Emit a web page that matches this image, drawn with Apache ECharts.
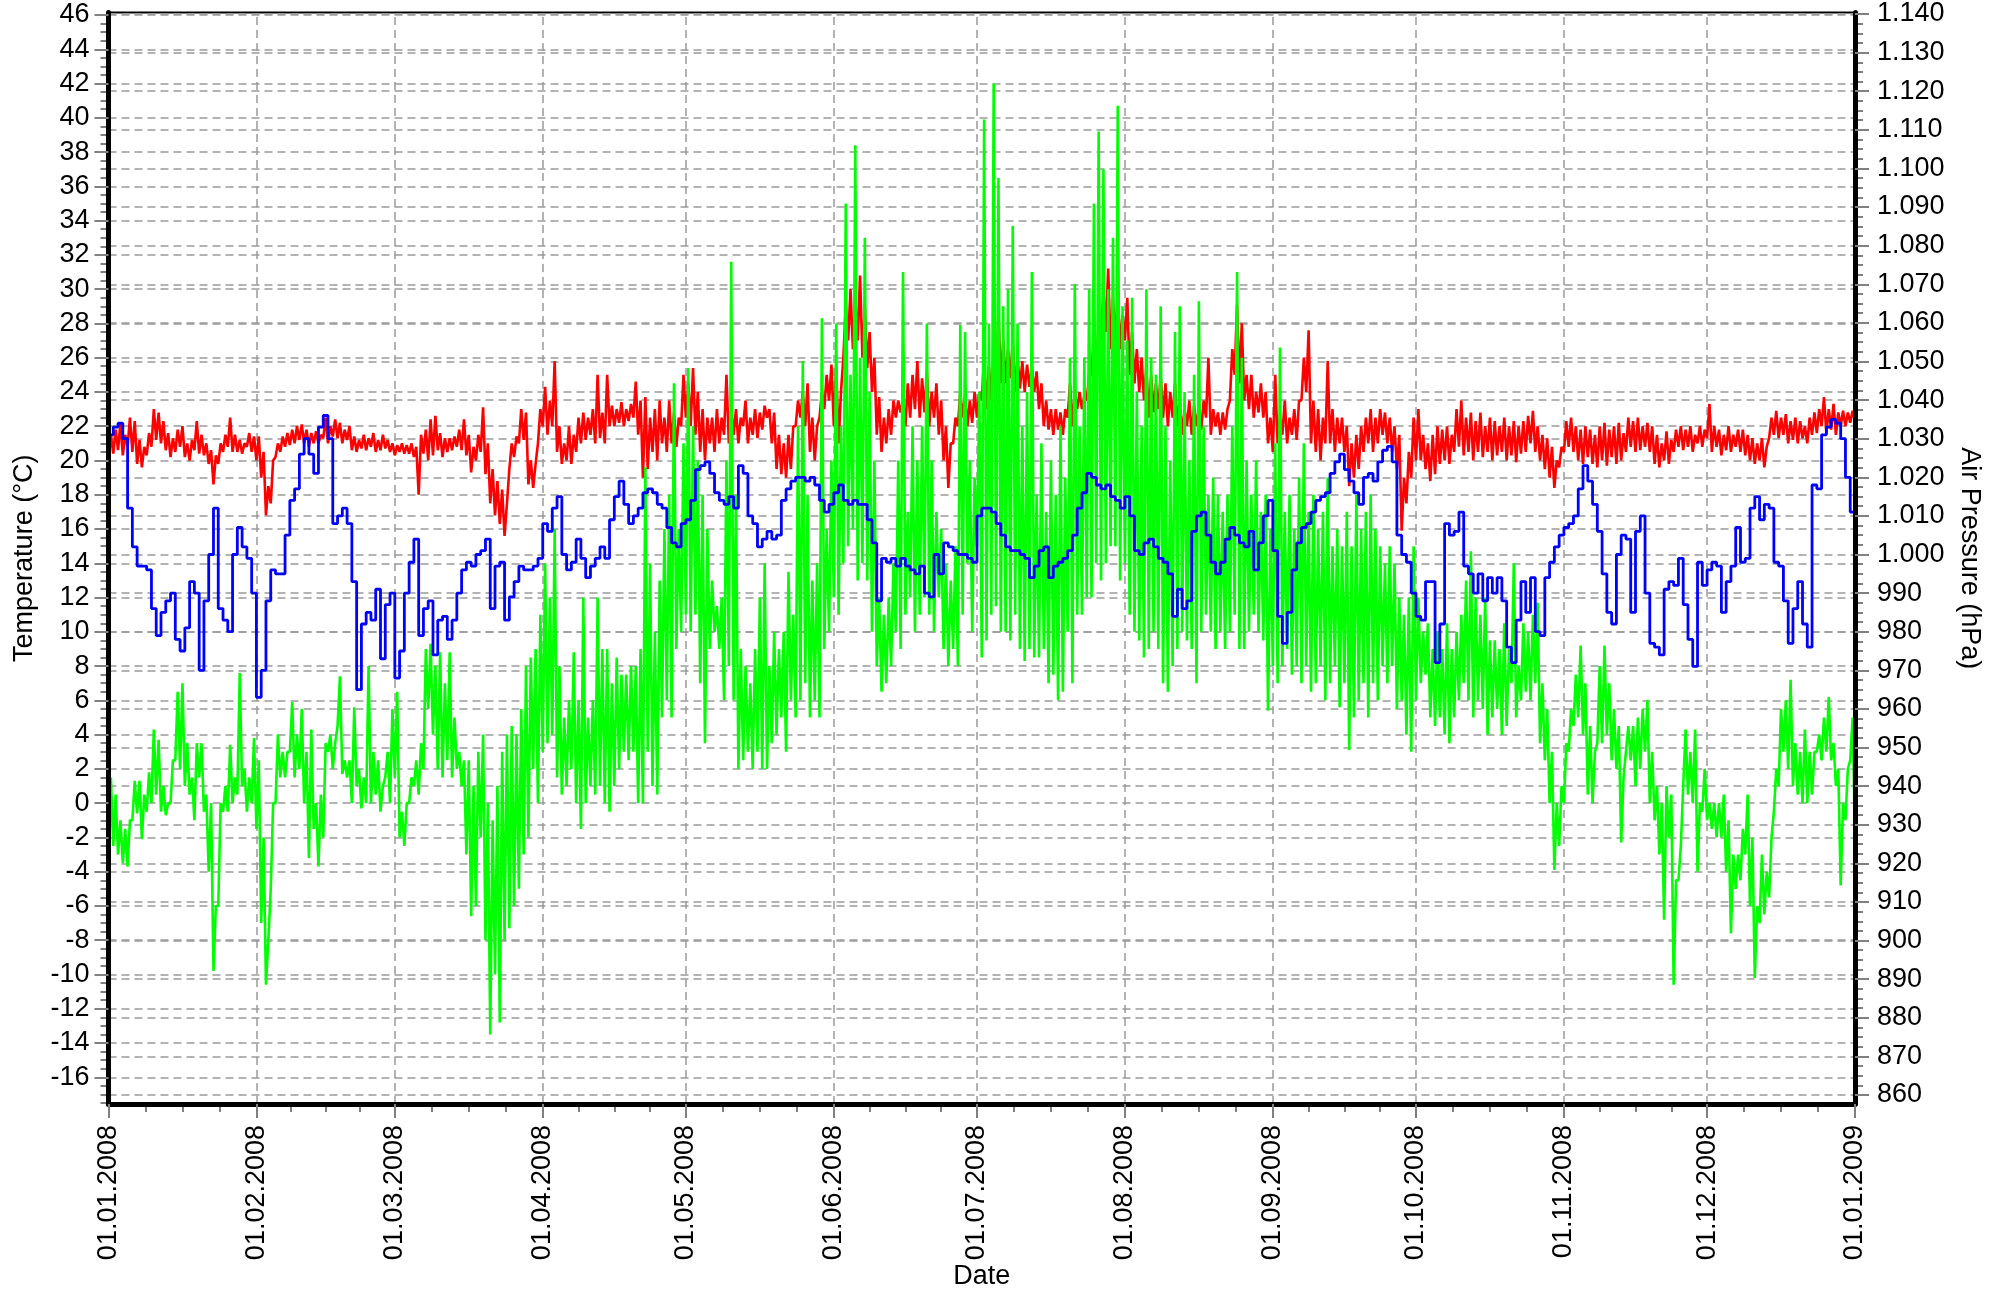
<!DOCTYPE html>
<html>
<head>
<meta charset="utf-8">
<script src="https://cdn.jsdelivr.net/npm/echarts@6/dist/echarts.min.js"></script>
<style>html,body{margin:0;padding:0;background:#fff}#chart{width:2007px;height:1290px}</style>
</head>
<body>
<div id="chart"></div>
<script>
// ---------- axis labels / ticks ----------
const monthLabels = ['01.01.2008','01.02.2008','01.03.2008','01.04.2008','01.05.2008','01.06.2008',
  '01.07.2008','01.08.2008','01.09.2008','01.10.2008','01.11.2008','01.12.2008','01.01.2009'];
const monthStartDays = [0,31,60,91,121,152,182,213,244,274,305,335,366];
const tempTicks = [-16,-14,-12,-10,-8,-6,-4,-2,0,2,4,6,8,10,12,14,16,18,20,22,24,26,28,30,32,34,36,38,40,42,44,46];
const pressureTicks = [860,870,880,890,900,910,920,930,940,950,960,970,980,990,1000,1010,1020,1030,1040,
  1050,1060,1070,1080,1090,1100,1110,1120,1130,1140];

// ---------- data: one value per day (day 0 = 01.01.2008) ----------
// Air pressure (hPa), blue
const pressure = [
1031,1033,1034,1030,1012,1002,997,997,996,986,
979,985,988,990,978,975,981,993,990,970,
988,1000,1012,986,983,980,1000,1007,1002,999,
990,963,970,988,996,995,995,1005,1014,1017,
1026,1030,1026,1021,1033,1036,1030,1008,1010,1012,
1008,993,965,982,985,983,991,973,987,990,
968,975,990,998,1004,979,986,988,974,983,
984,978,983,990,996,998,997,1000,1001,1004,
986,997,998,983,989,993,997,996,996,997,
999,1008,1006,1012,1015,1000,996,998,1004,999,
994,997,999,1002,999,1009,1015,1019,1013,1008,
1010,1012,1016,1017,1016,1013,1012,1007,1003,1002,
1008,1009,1014,1022,1023,1024,1021,1016,1014,1013,
1015,1012,1023,1021,1010,1008,1002,1004,1006,1004,
1005,1014,1017,1019,1020,1020,1019,1020,1018,1014,
1011,1013,1016,1018,1014,1013,1014,1013,1013,1009,
1003,988,999,998,999,997,999,997,996,995,
997,990,989,1000,995,1003,1002,1001,1000,1000,
999,998,1010,1012,1012,1011,1008,1005,1002,1001,
1001,1000,999,994,997,1001,1002,994,997,998,
999,1001,1005,1012,1016,1021,1020,1018,1017,1018,
1015,1014,1012,1015,1010,1001,1000,1003,1004,1002,
999,998,995,984,991,986,988,1006,1010,1011,
1005,998,995,998,1004,1007,1005,1003,1002,1006,
996,1003,1010,1014,1001,984,977,985,996,1003,
1007,1008,1011,1014,1015,1016,1021,1024,1026,1022,
1019,1016,1013,1020,1021,1019,1024,1027,1028,1024,
1005,1000,998,990,984,983,993,993,972,982,
1008,1005,1006,1011,997,995,990,995,988,994,
990,994,988,976,972,983,993,985,994,980,
979,994,998,1002,1005,1007,1008,1010,1017,1023,
1019,1013,1006,995,985,982,1000,1005,1004,985,
1006,1010,990,977,976,974,991,993,992,999,
987,978,971,998,992,996,998,997,985,993,
997,1007,998,999,1012,1015,1009,1013,1012,998,
997,988,977,986,993,982,976,1018,1017,1031,
1033,1035,1034,1030,1020,1011,1013
];

// Outdoor temperature (°C), green: daily low and daily high
const outdoorMin = [
-1,-2.5,-3,-3.5,-3.7,-1,-0.6,-2.1,-0.5,0,
0.5,-0.5,-0.7,0,2.5,2,1,0.5,-1,1.5,
-0.5,-4,-9.8,-6,-0.5,-0.5,0,0.5,1,-0.5,
0,-1.5,-7,-10.6,-5,0,1.5,1.5,3,1.5,
2,0,-3.2,-1.5,-3.7,-2,3,2,4.5,1.7,
1.5,0,1,-0.3,0,0,0.5,-0.5,1.5,0,
1.5,-2,-2.5,0,1,0.5,2,5.5,4,2,
1.5,2.5,1.5,2,1,-3,-6.6,-6,-2,-8,
-13.5,-10,-12.8,-8,-7.3,-6,-5,-3,-2,2,
0,3,
3.5,4,1.5,0.5,1,2,0,-1.5,0,1,
0.5,1,0,-0.5,1,2,3,2.5,3,0,
0,3,1,0.5,5,6,5,9,10,11,
10,11,7,3.5,9,10,9,6,8,6,
2,2.5,3,2,3,2,2,3.5,4,5,
3,6,5,6,7,5,6,5,9,10,
12,11,14,15,16,13,14,13,10,8,
6.5,7,8,10,9,11,12,10,11,12,
11,10,12,9,8,9,8,11,14,10,
15,
8.5,9.5,11,11.5,10,10,9.5,11,9,8.3,
9,8.5,8.5,9,7,7.5,6,6.5,10,7,
11,11,12,12,14,13,14,15,15,13,
14,11,10,9.5,8.5,9,10,9,7,6.5,
8,9,10,9.5,9,7,10,11,10,9,
10,9,10,11,9,9,10,11,10,9.5,
5.4,8,7,8,9,7.5,8,7,8,6.5,
7,8,6,7,8,5.6,7,3.1,5,6,
7,5,7,6,8,7,8,5.5,6,4,
3,6,
7,7.5,5,4.5,5,4,3.5,5,6,7,
6,5,6,5.5,4,5,5.5,4,4.5,7,
5,6,6.5,6,7,3.5,2.5,0,-3.9,-2.5,
0,3,4.5,5,4,0.5,0,3.5,3.5,4,
2.5,2,-2.3,3,2.5,1,2,3,0,-1,
-3,-6.8,-2,-10.6,-4.5,1,0.5,0,-4,-0.5,
-1,-1.5,-2,-2,-4,-7.6,-5,-4.5,-3,-6,
-10.2,-7,-6.5,-5.5,-0.5,1,3,2,1,0.5,
0,0,0.5,3,2.5,3,2.5,1,-4.8,-1,
2.5,-2
];
const outdoorMax = [
1.5,0.5,-1,-1.5,-1,1.3,1.3,0.5,1.8,4.3,
3.7,1,0,2.5,6.5,7,3.5,1.5,3.5,3.5,
0.5,0,-6,0,1,3.4,1.5,7.6,2,1.5,
3.8,2.5,-2,-8,0,4,3,3,5.9,4,
5.5,3,4.3,0,0.5,3.5,4,3.5,7.4,2.5,
2.5,5.6,2,1.5,8,3,2.5,1,3,5.5,
6.5,-0.5,0,1.5,2.5,3.5,9,9.3,8,8.8,
7,8.8,5,3,2.5,2.5,1,3,4,0,
-1,1,3,4,4.5,4,5.5,8,8.5,9,
11,14,
12,16,8,5,6,8.8,6,12,5,6,
12,9,9,7,8.5,7.5,7.5,8,8,9,
19.6,14,10,13,16,18,24.5,16,21,25.4,
22,20,18,16,13,11.5,12,20,31.6,18,
9,8,7,9,12,14,8,10,9,10,
13.5,11,22,25.8,18,13,14,28.3,16,20,
28,22,35,25,38.4,26,33,24,20,12,
11,12,14,20,31,17,22,20,22,28,
20,17,16,14,13,15,27.9,27.5,20,19,
24,
39.9,28,42,36.5,29,30,33.7,28,22,24,
31,18,21,17,20,18,22,19,26,30.3,
22,26,30,35,39.2,37,30,33,40.7,29,
27,29.5,24,22,30,26,25,29,22,20,
27.5,29,24,20,25,29.3,22,18,19,18,
17,18,22,31,26,20,18,20,17,18,
16,21,26.6,17,18,16,19,21,17,18,
16,17,19,15,16,15,17,15,18,16,
17,18,16,15,14,15,14,12,11,12,
15,12,
10,10.5,9,10,9,10.5,9,10,11,13,
14.7,12,11,12,9.5,9.5,9,10.5,9,14,
8,10.5,10,11,11.7,7,5.5,3,0,1,
3.5,5.5,7.5,9.2,7,4.5,3,8,9.2,7,
5.5,4.5,1.5,4.5,4.5,5,5.5,6,3,1,
0,1,0.5,-4.5,-2.5,4.3,3,4.3,0,2,
0,0,0,0.5,-1,-3,-3,-1.5,0.5,-2,
-6,-3,-4,-2,2,5.5,6,7.2,3.5,3,
4.3,3,3,4,5,6.2,3.5,2,0,2,
5,-0.5
];

// Indoor temperature (°C), red: daily low and daily high
const indoorLo = [
20.2,20.4,20.6,20.3,20.8,20.5,19.8,19.6,20.3,20.8,
21.2,21.0,20.6,20.2,20.5,20.8,20.2,20.0,20.6,20.4,
20.3,19.8,18.6,19.8,20.5,20.8,20.5,20.5,20.4,20.8,
20.5,20.0,19.0,16.8,17.5,20.2,20.5,20.8,20.9,21.0,
21.2,21.0,20.8,21.0,21.0,21.3,21.0,21.4,21.3,21.0,
21.2,20.6,20.5,20.7,20.6,20.8,20.5,20.6,20.7,20.5,
20.3,20.5,20.4,20.4,20.2,18.0,20.4,20.0,20.3,20.6,
20.2,20.5,20.6,20.8,20.6,20.3,19.3,20.0,20.5,19.2,
17.5,16.8,16.3,15.6,19.5,20.2,21.0,21.2,18.6,18.4,
21.0,22.0,
21.5,22.0,20.5,19.8,20.0,19.8,20.5,21.0,21.2,21.5,
21.0,21.3,21.0,22.0,22.0,22.2,22.0,22.3,22.5,21.5,
19.0,19.5,20.5,20.0,21.0,20.5,21.0,20.8,22.0,22.5,
22.0,21.5,20.5,20.0,21.0,20.5,21.0,21.5,21.0,21.5,
21.0,22.0,21.0,21.5,21.3,21.8,22.5,21.0,19.5,19.2,
19.0,19.5,22.0,22.5,22.0,20.5,20.0,22.5,23.0,23.5,
22.0,21.0,26.0,27.0,26.5,27.0,26.0,25.4,24.0,21.5,
20.5,21.0,21.5,22.5,22.8,22.0,22.5,23.0,22.5,22.8,
22.0,22.5,21.5,20.0,18.4,21.0,22.0,22.5,22.0,22.2,
22.5,
23.5,23.0,23.5,24.0,24.5,24.5,24.8,24.0,24.2,24.0,
24.3,24.0,23.0,22.0,21.8,21.5,21.8,21.5,22.5,22.0,
23.0,23.0,23.5,25.0,25.5,27.0,27.5,26.5,27.0,26.5,
27.0,25.0,24.5,24.0,23.5,22.5,22.8,23.0,22.5,22.0,
22.5,22.0,21.5,22.0,21.5,22.0,21.8,22.5,21.5,22.0,
21.5,21.8,23.5,25.0,24.5,23.5,23.0,22.5,22.8,22.5,
21.0,20.5,21.0,21.5,21.0,21.5,21.2,23.5,24.0,21.0,
20.5,20.0,21.0,21.0,20.5,21.0,20.5,18.5,19.0,19.5,
20.5,21.0,20.5,21.0,21.5,21.0,20.5,19.5,15.9,17.5,
19.0,20.0,
20.0,19.5,18.8,19.2,19.8,20.0,19.8,20.5,20.8,20.3,
20.5,20.0,20.5,20.2,20.5,20.0,20.3,20.5,20.0,20.3,
19.9,20.4,20.5,21.0,20.5,20.0,19.5,19.0,18.4,19.6,
20.5,20.8,20.5,20.0,19.8,20.2,19.8,19.6,20.0,19.7,
20.2,19.8,20.0,20.5,20.8,20.5,20.6,20.8,20.5,19.8,
19.6,20.0,19.8,20.5,20.8,20.6,20.8,20.5,21.0,20.8,
21.3,20.5,20.8,20.3,20.6,20.5,20.8,20.5,20.3,20.0,
19.8,20.0,19.6,21.3,21.5,21.3,21.5,21.0,21.2,21.0,
21.3,21.0,21.5,21.6,22.0,21.6,21.8,21.5,22.0,22.0,
22.2,22.3
];
const indoorHi = [
21.5,21.8,22.2,21.5,22.5,22.3,21.2,20.8,21.6,23.0,
22.8,22.3,21.6,21.3,21.8,22.0,21.0,21.2,22.3,21.5,
21.0,20.6,20.3,21.0,21.5,22.5,21.5,21.2,21.0,21.6,
21.4,21.4,20.5,18.5,20.0,21.0,21.4,21.6,21.8,22.0,
22.1,21.8,21.6,21.7,21.5,22.5,22.0,22.4,22.2,21.8,
22.0,21.4,21.2,21.5,21.3,21.6,21.2,21.5,21.2,21.0,
20.9,21.0,20.9,21.0,20.8,21.5,21.8,22.4,22.6,21.6,
21.3,21.3,21.4,21.8,22.4,21.5,20.8,21.5,23.1,21.0,
19.5,18.8,18.3,17.5,21.0,21.4,23.0,22.8,20.0,19.8,
23.0,24.3,
23.5,25.8,22.0,21.0,22.0,21.5,22.5,22.8,22.5,23.0,
25.0,22.8,25.0,23.2,23.0,23.4,23.0,23.3,24.6,23.5,
23.7,22.5,23.0,23.5,22.5,23.5,22.8,22.5,25.0,24.5,
25.4,24.0,23.0,22.5,22.5,23.0,22.5,25.0,23.0,23.0,
22.5,23.5,22.5,23.0,22.8,23.2,23.0,22.8,21.5,21.0,
21.5,22.0,23.5,24.0,24.5,22.5,22.0,24.0,25.0,25.6,
25.5,24.0,29.0,30.0,29.5,30.8,29.0,27.5,26.0,23.7,
22.5,23.0,23.5,23.5,23.5,24.5,25.0,25.8,24.8,25.2,
24.0,24.5,23.5,22.0,21.0,22.5,24.0,23.8,23.5,24.0,
24.0,
26.0,25.5,26.5,28.7,27.0,26.5,27.0,26.0,25.8,25.6,
25.5,25.2,24.5,23.5,23.0,23.0,22.8,23.0,24.5,24.0,
24.0,23.8,25.0,27.5,28.0,30.0,31.2,29.5,30.0,28.5,
29.5,27.5,26.5,26.0,25.5,25.0,24.5,25.0,24.5,24.0,
24.5,23.5,23.0,23.5,23.2,23.0,23.5,26.0,23.0,22.8,
22.8,23.0,26.5,29.1,28.0,25.0,25.0,24.0,24.5,24.0,
22.5,25.0,22.5,23.5,22.5,23.0,23.5,26.0,27.6,23.5,
23.0,22.5,25.8,23.0,22.5,22.5,22.0,21.0,21.5,22.0,
22.5,23.0,22.5,23.0,22.8,22.5,22.0,21.5,19.0,20.5,
22.5,23.0,
21.5,21.0,21.5,22.0,21.8,22.0,21.5,23.0,23.5,22.5,
22.8,22.3,22.8,22.0,22.5,22.3,22.0,22.5,22.0,22.3,
22.0,22.3,22.6,22.9,22.0,21.5,21.3,20.8,20.0,20.8,
22.3,22.5,22.0,21.8,22.0,21.8,21.5,22.0,22.2,21.8,
22.0,22.2,21.6,22.5,22.3,22.5,22.0,22.2,22.0,21.5,
21.0,21.7,21.2,21.8,22.0,21.8,22.0,21.5,22.0,21.8,
23.3,22.0,21.8,21.5,22.0,21.5,21.8,21.8,21.5,21.3,
21.0,21.3,20.8,22.5,22.9,22.5,22.7,22.3,22.5,22.3,
22.0,22.5,22.8,23.0,23.7,23.0,23.3,22.8,22.9,22.8,
22.9,23.0
];

// ---------- build series points ----------
function halfDayPoints(lo, hi) {
  const pts = [];
  for (let d = 0; d < lo.length; d++) {
    pts.push([d, lo[d]]);
    pts.push([d + 0.5, hi[d]]);
  }
  return pts;
}
const pressurePoints = pressure.map((v, d) => [d, v]);

const tempMinor = []; for (let v = -17.5; v <= 46; v += 0.5) tempMinor.push(v);
const pressMinor = []; for (let v = 860; v <= 1140; v += 2.5) pressMinor.push(v);
const monthQuarters = [];
for (let i = 0; i < monthStartDays.length - 1; i++) {
  const a = monthStartDays[i], b = monthStartDays[i + 1];
  for (let k = 1; k < 4; k++) monthQuarters.push(a + k * (b - a) / 4);
}

const FONT = '"Liberation Sans", Arial, Helvetica, sans-serif';
const TICK = { color: '#808080', width: 2 };
const GRIDLINE = { type: [8, 5], color: '#9a9a9a', width: 1.5 };
const T_MIN = -17.558, T_MAX = 46.146, P_MIN = 857.67, P_MAX = 1140.39;

function fmtPressure(v) {
  if (v >= 1000) return Math.floor(v / 1000) + '.' + String(v % 1000).padStart(3, '0');
  return String(v);
}

const chart = echarts.init(document.getElementById('chart'), null, { renderer: 'canvas' });
chart.setOption({
  animation: false,
  backgroundColor: '#ffffff',
  grid: { left: 108.5, right: 152, top: 12.5, bottom: 186, show: true, borderColor: '#000', borderWidth: 2,
    backgroundColor: 'transparent', containLabel: false, outerBoundsMode: 'none' },
  xAxis: [
    {
      type: 'value', min: 0, max: 366, position: 'bottom', z: 6,
      name: 'Date', nameLocation: 'middle', nameGap: 159, nameMoveOverlap: false,
      nameTextStyle: { fontSize: 27, fontFamily: FONT, color: '#000' },
      axisLine: { show: true, onZero: false, lineStyle: { color: '#000', width: 5 } },
      axisTick: { show: true, customValues: monthStartDays, length: 14, lineStyle: TICK },
      axisLabel: { show: true, customValues: monthStartDays, rotate: 90, margin: 21, fontSize: 27, fontFamily: FONT, color: '#000',
        formatter: v => monthLabels[monthStartDays.indexOf(Math.round(v))] },
      splitLine: { show: false }
    },
    {
      type: 'value', min: 0, max: 366, position: 'bottom', z: 5,
      axisLine: { show: false, onZero: false }, axisLabel: { show: false }, splitLine: { show: false },
      axisTick: { show: true, customValues: monthQuarters, length: 8, lineStyle: TICK }
    }
  ],
  yAxis: [
    {
      type: 'value', min: T_MIN, max: T_MAX, position: 'left', z: 6,
      name: 'Temperature (°C)', nameLocation: 'middle', nameGap: 70, nameRotate: 90,
      nameTextStyle: { fontSize: 27, fontFamily: FONT, color: '#000' },
      axisLine: { show: true, onZero: false, lineStyle: { color: '#000', width: 5 } },
      axisTick: { show: true, customValues: tempTicks, length: 14, lineStyle: TICK },
      axisLabel: { show: true, customValues: tempTicks, margin: 19, fontSize: 27, fontFamily: FONT, color: '#000', formatter: v => String(v) },
      splitLine: { show: false }
    },
    {
      type: 'value', min: P_MIN, max: P_MAX, position: 'right', z: 6,
      name: 'Air Pressure (hPa)', nameLocation: 'middle', nameGap: 101, nameRotate: -90,
      nameTextStyle: { fontSize: 27, fontFamily: FONT, color: '#000' },
      axisLine: { show: true, onZero: false, lineStyle: { color: '#000', width: 5 } },
      axisTick: { show: true, customValues: pressureTicks, length: 14, lineStyle: TICK },
      axisLabel: { show: true, customValues: pressureTicks, margin: 22, fontSize: 27, fontFamily: FONT, color: '#000', formatter: fmtPressure },
      splitLine: { show: false }
    },
    {
      type: 'value', min: T_MIN, max: T_MAX, position: 'left', z: 5,
      axisLine: { show: false, onZero: false }, axisLabel: { show: false }, splitLine: { show: false },
      axisTick: { show: true, customValues: tempMinor, length: 8, lineStyle: TICK }
    },
    {
      type: 'value', min: P_MIN, max: P_MAX, position: 'right', z: 5,
      axisLine: { show: false, onZero: false }, axisLabel: { show: false }, splitLine: { show: false },
      axisTick: { show: true, customValues: pressMinor, length: 8, lineStyle: TICK }
    }
  ],
  series: [
    {
      name: 'Indoor temperature', type: 'line', xAxisIndex: 0, yAxisIndex: 0, z: 2,
      data: halfDayPoints(indoorLo, indoorHi), showSymbol: false, symbol: 'none',
      lineStyle: { color: '#ff0000', width: 2.6 }, itemStyle: { color: '#ff0000' },
      markLine: {
        z: 1, silent: true, symbol: 'none', label: { show: false }, emphasis: { disabled: true },
        lineStyle: GRIDLINE,
        data: tempTicks.map(v => ({ yAxis: v })).concat(monthStartDays.slice(1, -1).map(d => ({ xAxis: d })))
      }
    },
    {
      name: 'Outdoor temperature', type: 'line', xAxisIndex: 0, yAxisIndex: 0, z: 3,
      data: halfDayPoints(outdoorMin, outdoorMax), showSymbol: false, symbol: 'none',
      lineStyle: { color: '#00ff00', width: 2.6 }, itemStyle: { color: '#00ff00' }
    },
    {
      name: 'Air pressure', type: 'line', xAxisIndex: 0, yAxisIndex: 1, z: 4, step: 'end',
      data: pressurePoints, showSymbol: false, symbol: 'none',
      lineStyle: { color: '#0000ff', width: 2.8 }, itemStyle: { color: '#0000ff' },
      markLine: {
        z: 1, silent: true, symbol: 'none', label: { show: false }, emphasis: { disabled: true },
        lineStyle: GRIDLINE,
        data: pressureTicks.map(v => ({ yAxis: v }))
      }
    }
  ]
});
</script>
</body>
</html>
